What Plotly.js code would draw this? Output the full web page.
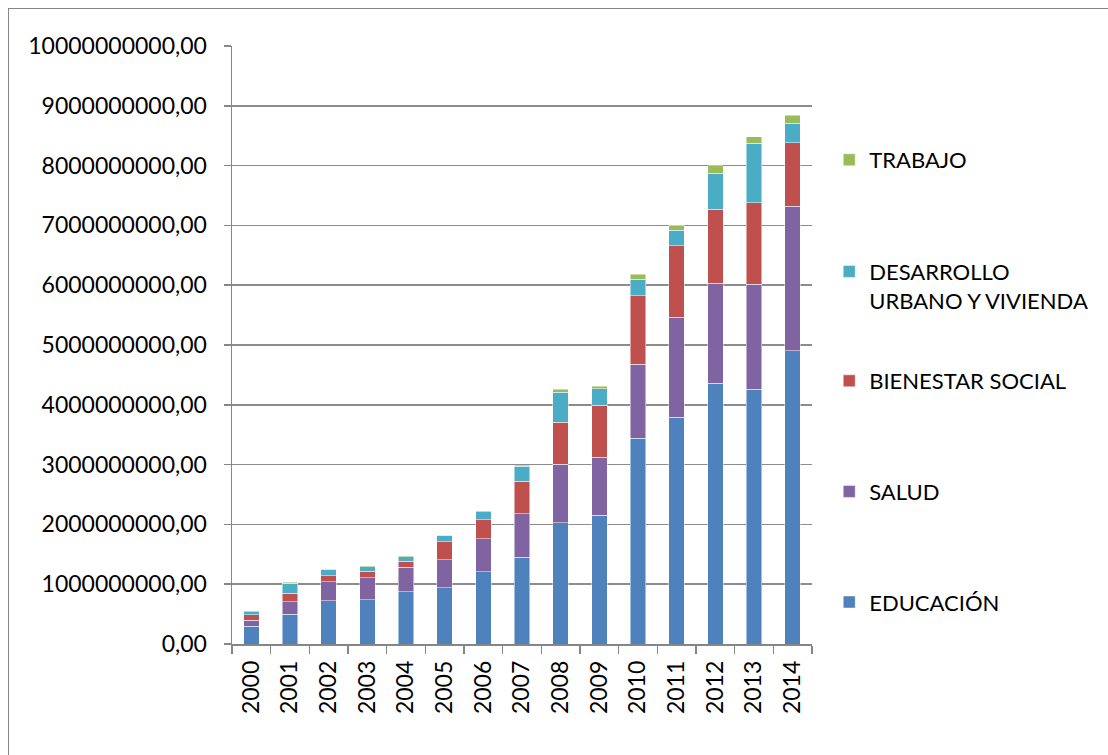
<!DOCTYPE html>
<html>
<head>
<meta charset="utf-8">
<script src="https://cdn.plot.ly/plotly-3.0.1.min.js"></script>
<style>
html,body{margin:0;padding:0;background:#fff;overflow:hidden;}
#wrap{position:relative;width:1108px;height:755px;}
#chart{position:absolute;left:0;top:0;width:1108px;height:755px;}
#frame{position:absolute;left:8px;top:8px;width:1200px;height:900px;border-left:1.5px solid #868686;border-top:1.5px solid #868686;pointer-events:none;}
</style>
</head>
<body>
<div id="wrap"><div id="chart"></div><div id="frame"></div></div>
<script>
const years = ['2000','2001','2002','2003','2004','2005','2006','2007','2008','2009','2010','2011','2012','2013','2014'];
const educacion = [0.30e9,0.50e9,0.72e9,0.74e9,0.87e9,0.94e9,1.21e9,1.45e9,2.03e9,2.15e9,3.44e9,3.79e9,4.36e9,4.26e9,4.90e9];
const salud = [0.10e9,0.21e9,0.32e9,0.37e9,0.41e9,0.47e9,0.55e9,0.73e9,0.98e9,0.97e9,1.24e9,1.67e9,1.67e9,1.76e9,2.42e9];
const bienestar = [0.09e9,0.14e9,0.10e9,0.11e9,0.10e9,0.30e9,0.32e9,0.54e9,0.70e9,0.87e9,1.14e9,1.20e9,1.24e9,1.36e9,1.06e9];
const desarrollo = [0.05e9,0.17e9,0.10e9,0.07e9,0.08e9,0.10e9,0.13e9,0.25e9,0.50e9,0.28e9,0.28e9,0.26e9,0.60e9,0.99e9,0.33e9];
const trabajo = [0.015e9,0.015e9,0.01e9,0.015e9,0.02e9,0.01e9,0.02e9,0.02e9,0.05e9,0.04e9,0.08e9,0.08e9,0.13e9,0.11e9,0.13e9];
const seriesNames = ['EDUCACIÓN','SALUD','BIENESTAR SOCIAL','DESARROLLO<br>URBANO Y VIVIENDA','TRABAJO'];
const seriesColors = ['#4F81BD','#8064A2','#C0504D','#4BACC6','#9BBB59'];
const yTickVals = [0,1e9,2e9,3e9,4e9,5e9,6e9,7e9,8e9,9e9,1e10];
const yTickText = ['0,00','1000000000,00','2000000000,00','3000000000,00','4000000000,00','5000000000,00','6000000000,00','7000000000,00','8000000000,00','9000000000,00','10000000000,00'];

const seriesData = [educacion, salud, bienestar, desarrollo, trabajo];
const legendFor = ['legend2','legend2','legend2','legend','legend'];
const traces = seriesData.map((vals, i) => ({
  type: 'bar',
  x: years,
  y: vals,
  name: seriesNames[i],
  legend: legendFor[i],
  legendgroup: 'g' + i,
  legendrank: 10 - i,
  marker: {color: seriesColors[i], line: {color: 'rgba(255,255,255,0.6)', width: 0.8}},
  hoverinfo: 'x+y+name'
}));

const font = {family: 'Lato, "Open Sans", sans-serif', size: 23, color: '#000'};
const legendFont = {family: 'Lato, "Open Sans", sans-serif', size: 22, color: '#000'};
const legendBase = {
  xanchor: 'left', yanchor: 'top',
  traceorder: 'grouped', valign: 'top',
  font: legendFont, bgcolor: 'rgba(0,0,0,0)'
};
const layout = {
  width: 1108, height: 755,
  margin: {l: 232, r: 296, t: 46, b: 111, autoexpand: false},
  paper_bgcolor: 'rgba(0,0,0,0)',
  plot_bgcolor: '#fff',
  barmode: 'stack',
  bargap: 0.6,
  font: font,
  showlegend: true,
  legend: Object.assign({}, legendBase, {x: 1.0297, y: 0.8445, tracegroupgap: 80}),
  legend2: Object.assign({}, legendBase, {x: 1.0297, y: 0.4749, tracegroupgap: 79}),
  xaxis: {
    type: 'category',
    tickangle: -90,
    ticks: 'outside', ticklen: 8, tickcolor: '#868686', tickwidth: 1.5,
    tickson: 'boundaries',
    showline: true, linecolor: '#868686', linewidth: 1.5,
    showgrid: false,
    tickfont: font,
    ticklabelstandoff: 6
  },
  yaxis: {
    range: [0, 1e10],
    tickmode: 'array', tickvals: yTickVals, ticktext: yTickText,
    ticks: 'outside', ticklen: 7, tickcolor: '#868686', tickwidth: 1.5,
    showline: true, linecolor: '#868686', linewidth: 1.5,
    showgrid: true, gridcolor: '#8c8c8c', gridwidth: 1.5,
    zeroline: false,
    tickfont: font,
    ticklabelstandoff: 12
  }
};
Plotly.newPlot('chart', traces, layout, {displayModeBar: false, staticPlot: true});
</script>
</body>
</html>
